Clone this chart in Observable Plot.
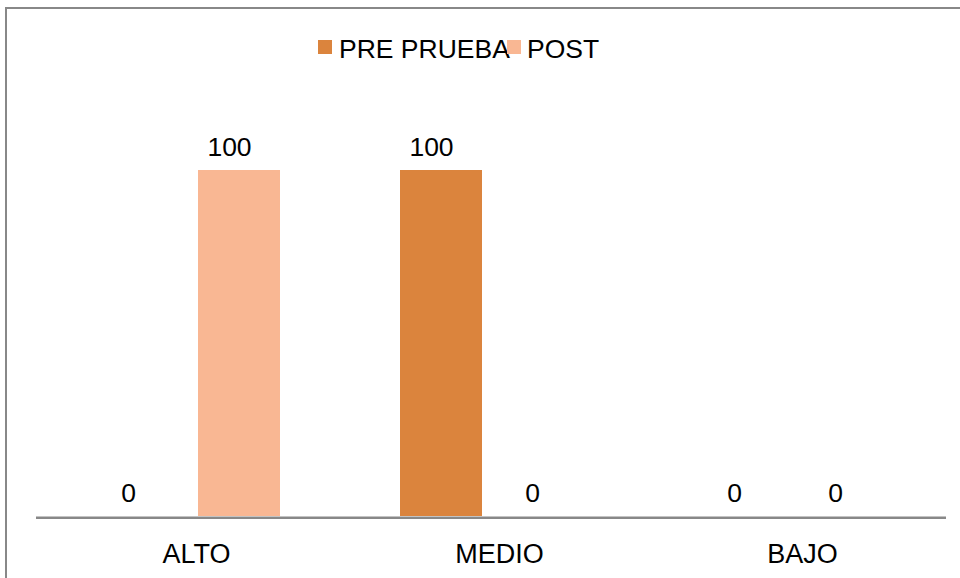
<!DOCTYPE html>
<html>
<head>
<meta charset="utf-8">
<script src="https://cdn.jsdelivr.net/npm/d3@7"></script>
<script src="https://cdn.jsdelivr.net/npm/@observablehq/plot@0.6"></script>
<style>
  html, body { margin: 0; padding: 0; background: #fff; }
  #wrap { position: relative; width: 960px; height: 578px; overflow: hidden; background: #fff;
          font-family: "Liberation Sans", Arial, sans-serif; }
  #frame { position: absolute; left: 5px; top: 7px; width: 2000px; height: 2000px;
           border-top: 2px solid #888; border-left: 2px solid #888; pointer-events: none; z-index: 5; }
  #legend, #chart { display: block; line-height: 0; }
  #legend svg, #chart svg { display: block; }
</style>
</head>
<body>
<div id="wrap">
  <div id="legend"></div>
  <div id="chart"></div>
  <div id="frame"></div>
</div>
<script>
// ---- data ----
const categories = ["ALTO", "MEDIO", "BAJO"];
const seriesNames = ["PRE PRUEBA", "POST"];
const prePrueba = [0, 100, 0];
const post = [100, 0, 0];
const seriesColors = ["#DB843D", "#F9B793"];

const preRows = categories.map((c, i) => ({category: c, series: seriesNames[0], value: prePrueba[i]}));
const postRows = categories.map((c, i) => ({category: c, series: seriesNames[1], value: post[i]}));

// ---- legend (above the plot) ----
const legendSvg = d3.create("svg")
  .attr("width", 960).attr("height", 80)
  .style("display", "block")
  .attr("font-family", "Liberation Sans, Arial, sans-serif")
  .attr("font-size", 26.5);
const legendItems = [
  {name: seriesNames[0], color: seriesColors[0], sx: 318, tx: 339},
  {name: seriesNames[1], color: seriesColors[1], sx: 507, tx: 527}
];
legendItems.forEach(it => {
  legendSvg.append("rect").attr("x", it.sx).attr("y", 40).attr("width", 14).attr("height", 14).attr("fill", it.color);
  legendSvg.append("text").attr("x", it.tx).attr("y", 57.5).attr("fill", "#000").text(it.name);
});
document.getElementById("legend").appendChild(legendSvg.node());

// ---- chart ----
const chart = Plot.plot({
  width: 960,
  height: 498,
  marginLeft: 36,
  marginRight: 14,
  marginTop: 90,
  marginBottom: 62,
  style: {fontFamily: "Liberation Sans, Arial, sans-serif", fontSize: "26.5px", color: "#000", background: "transparent"},
  x: {type: "band", domain: categories, padding: 0, label: null},
  y: {domain: [0, 100], axis: null, nice: false},
  marks: [
    Plot.barY(preRows, {x: "category", y: "value", fill: seriesColors[0], insetLeft: 60, insetRight: 161}),
    Plot.barY(postRows, {x: "category", y: "value", fill: seriesColors[1], insetLeft: 161, insetRight: 60}),
    Plot.ruleY([0], {stroke: "#888", strokeWidth: 2.5, dy: 1.2}),
    Plot.text(preRows, {x: "category", y: "value", text: d => String(d.value), dx: -60.5, dy: -23, fill: "#000", fontSize: 26.5}),
    Plot.text(postRows, {x: "category", y: "value", text: d => String(d.value), dx: 40.5, dy: -23, fill: "#000", fontSize: 26.5}),
    Plot.axisX({tickSize: 0, tickPadding: 27, fontSize: 27, dx: 7.5, label: null, fill: "#000"})
  ]
});
document.getElementById("chart").appendChild(chart);
</script>
</body>
</html>
